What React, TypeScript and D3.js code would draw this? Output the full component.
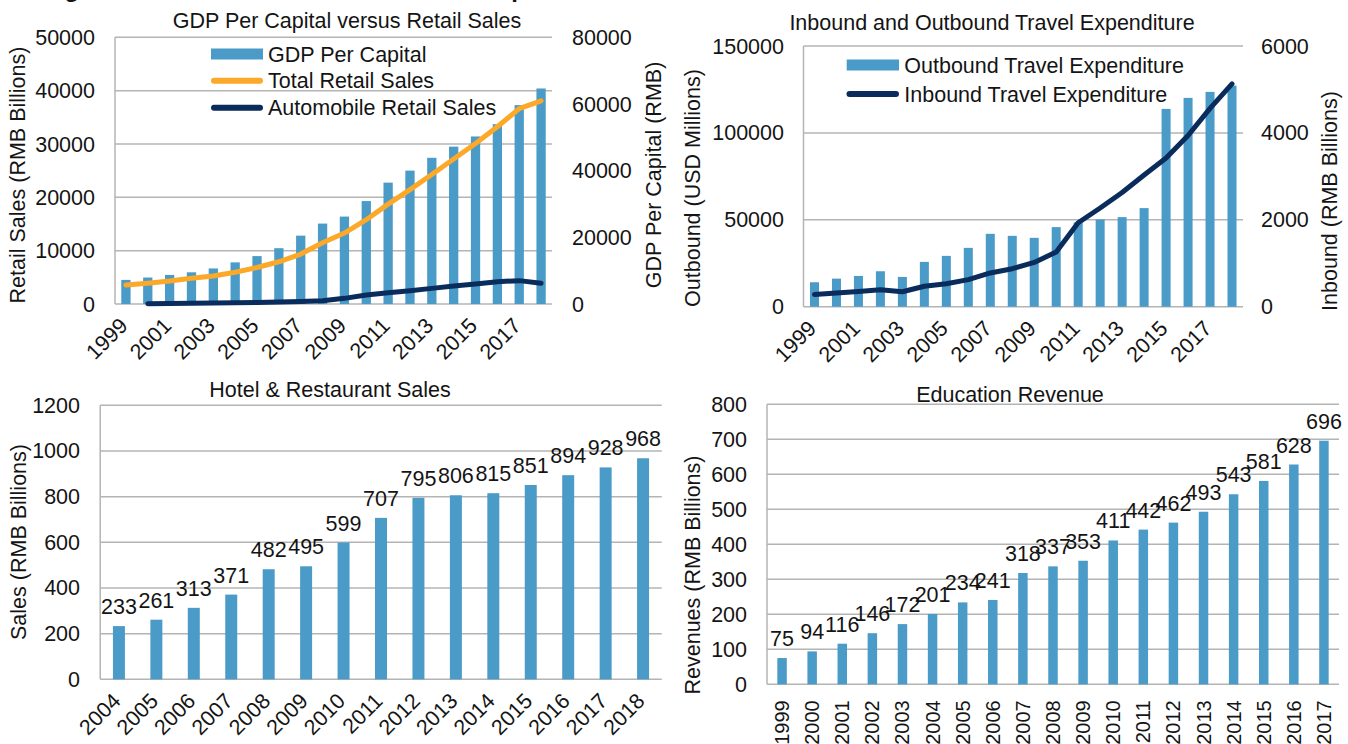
import React from 'react';
import * as d3 from 'd3';

// ---------- DATA ----------
const gdpYears = ['1999','2000','2001','2002','2003','2004','2005','2006','2007','2008','2009','2010','2011','2012','2013','2014','2015','2016','2017','2018'];
const gdpPerCapita = [7229, 7942, 8717, 9506, 10666, 12487, 14368, 16738, 20505, 24121, 26222, 30876, 36403, 40007, 43852, 47203, 50251, 53935, 59660, 64644];
const totalRetailSales = [3565, 3911, 4306, 4814, 5252, 5950, 6835, 7915, 9357, 11483, 13305, 15801, 18721, 21443, 24284, 27190, 30093, 33232, 36626, 38099];
const autoYears = ['2000','2001','2002','2003','2004','2005','2006','2007','2008','2009','2010','2011','2012','2013','2014','2015','2016','2017','2018'];
const autoRetailSales = [60, 80, 120, 180, 220, 280, 360, 480, 620, 1060, 1690, 2120, 2500, 2930, 3360, 3750, 4190, 4380, 3880];
const retailTicks = [0, 10000, 20000, 30000, 40000, 50000];
const gdpTicks = [0, 20000, 40000, 60000, 80000];

const travelYears = ['1999','2000','2001','2002','2003','2004','2005','2006','2007','2008','2009','2010','2011','2012','2013','2014','2015','2016','2017','2018'];
const outboundTravel = [14070, 16150, 17700, 20400, 17130, 25780, 29240, 33850, 41930, 40770, 39620, 45790, 48500, 50200, 51540, 56730, 113800, 120150, 123600, 127200];
const inboundTravel = [283, 318, 352, 388, 344, 471, 529, 623, 777, 875, 1018, 1258, 1931, 2271, 2628, 3031, 3420, 3939, 4566, 5128];
const outboundTicks = [0, 50000, 100000, 150000];
const inboundTicks = [0, 2000, 4000, 6000];

const hotelYears = ['2004','2005','2006','2007','2008','2009','2010','2011','2012','2013','2014','2015','2016','2017','2018'];
const hotelSales = [233, 261, 313, 371, 482, 495, 599, 707, 795, 806, 815, 851, 894, 928, 968];
const hotelTicks = [0, 200, 400, 600, 800, 1000, 1200];

const eduYears = ['1999','2000','2001','2002','2003','2004','2005','2006','2007','2008','2009','2010','2011','2012','2013','2014','2015','2016','2017'];
const eduRevenue = [75, 94, 116, 146, 172, 201, 234, 241, 318, 337, 353, 411, 442, 462, 493, 543, 581, 628, 696];
const eduTicks = [0, 100, 200, 300, 400, 500, 600, 700, 800];

// ---------- STYLE ----------
const FONT = "'Liberation Sans', Arial, Helvetica, sans-serif";
const FS = 21.5;
const BAR = '#4a9bc7';
const ORANGE = '#fca828';
const NAVY = '#0a2c5c';
const GRID = '#b4b4b4';
const TXT = '#141414';

function band(domain: string[], r0: number, r1: number, inner: number) {
  return d3.scaleBand<string>().domain(domain).range([r0, r1]).paddingInner(inner).paddingOuter(inner / 2);
}

function Grid({ ticks, y, x0, x1 }: any) {
  return (
    <g>
      {ticks.map((t: number) => (
        <line key={t} x1={x0} x2={x1} y1={y(t)} y2={y(t)} stroke={GRID} strokeWidth={1.5} />
      ))}
      <line x1={x0} x2={x0} y1={y(ticks[0])} y2={y(ticks[ticks.length - 1])} stroke={GRID} strokeWidth={1.5} />
    </g>
  );
}

function LeftTicks({ ticks, y, x }: any) {
  return (
    <g>
      {ticks.map((t: number) => (
        <text key={t} x={x} y={y(t)} dy="0.35em" textAnchor="end" fontSize={FS} fill={TXT}>{t}</text>
      ))}
    </g>
  );
}

function RightTicks({ ticks, y, x }: any) {
  return (
    <g>
      {ticks.map((t: number) => (
        <text key={t} x={x} y={y(t)} dy="0.35em" textAnchor="start" fontSize={FS} fill={TXT}>{t}</text>
      ))}
    </g>
  );
}

function VLabel({ x, y, text }: any) {
  return (
    <text transform={`translate(${x},${y}) rotate(-90)`} textAnchor="middle" fontSize={FS} fill={TXT}>{text}</text>
  );
}

function DiagLabels({ cats, x, base }: any) {
  const bw = x.bandwidth();
  return (
    <g>
      {cats.map((c: string) => (
        <text key={c} transform={`translate(${(x(c) as number) + bw / 2 + 3},${base + 23}) rotate(-45)`} textAnchor="end" fontSize={FS} fill={TXT}>{c}</text>
      ))}
    </g>
  );
}

function ChartRetail() {
  const x0 = 115, x1 = 552, yb = 304, yt = 37.3;
  const x = band(gdpYears, x0, x1, 0.575);
  const bw = x.bandwidth();
  const yL = d3.scaleLinear().domain([0, 50000]).range([yb, yt]);
  const yR = d3.scaleLinear().domain([0, 80000]).range([yb, yt]);
  const cx = (c: string) => (x(c) as number) + bw / 2;
  const retailLine = d3.line<number>().x((_, i) => cx(gdpYears[i])).y((d) => yL(d))(totalRetailSales) as string;
  const autoLine = d3.line<number>().x((_, i) => cx(autoYears[i])).y((d) => yL(d))(autoRetailSales) as string;
  return (
    <g>
      <text x={347} y={28} textAnchor="middle" fontSize={FS} fill={TXT}>GDP Per Capital versus Retail Sales</text>
      <Grid ticks={retailTicks} y={yL} x0={x0} x1={x1} />
      {gdpYears.map((c, i) => (
        <rect key={c} x={x(c)} y={yR(gdpPerCapita[i])} width={bw} height={yb - yR(gdpPerCapita[i])} fill={BAR} />
      ))}
      <path d={retailLine} fill="none" stroke={ORANGE} strokeWidth={5} strokeLinejoin="round" strokeLinecap="round" />
      <path d={autoLine} fill="none" stroke={NAVY} strokeWidth={5} strokeLinejoin="round" strokeLinecap="round" />
      <LeftTicks ticks={retailTicks} y={yL} x={95} />
      <RightTicks ticks={gdpTicks} y={yR} x={572} />
      <VLabel x={25} y={175} text="Retail Sales (RMB Billions)" />
      <VLabel x={661} y={175} text="GDP Per Capital (RMB)" />
      <DiagLabels cats={gdpYears.filter((_, i) => i % 2 === 0)} x={x} base={yb} />
      {/* legend */}
      <rect x={211} y={48.5} width={52} height={11} fill={BAR} />
      <text x={268} y={54} dy="0.35em" fontSize={FS} fill={TXT}>GDP Per Capital</text>
      <line x1={214} x2={260} y1={80.7} y2={80.7} stroke={ORANGE} strokeWidth={6} strokeLinecap="round" />
      <text x={268} y={80.7} dy="0.35em" fontSize={FS} fill={TXT}>Total Retail Sales</text>
      <line x1={214} x2={260} y1={107.7} y2={107.7} stroke={NAVY} strokeWidth={6} strokeLinecap="round" />
      <text x={268} y={107.7} dy="0.35em" fontSize={FS} fill={TXT}>Automobile Retail Sales</text>
    </g>
  );
}

function ChartTravel() {
  const x0 = 803.5, x1 = 1243, yb = 306.7, yt = 46;
  const x = band(travelYears, x0, x1, 0.59);
  const bw = x.bandwidth();
  const yL = d3.scaleLinear().domain([0, 150000]).range([yb, yt]);
  const yR = d3.scaleLinear().domain([0, 6000]).range([yb, yt]);
  const cx = (c: string) => (x(c) as number) + bw / 2;
  const inLine = d3.line<number>().x((_, i) => cx(travelYears[i])).y((d) => yR(d))(inboundTravel) as string;
  return (
    <g>
      <text x={992} y={30} textAnchor="middle" fontSize={FS} fill={TXT}>Inbound and Outbound Travel Expenditure</text>
      <Grid ticks={outboundTicks} y={yL} x0={x0} x1={x1} />
      {travelYears.map((c, i) => (
        <rect key={c} x={x(c)} y={yL(outboundTravel[i])} width={bw} height={yb - yL(outboundTravel[i])} fill={BAR} />
      ))}
      <path d={inLine} fill="none" stroke={NAVY} strokeWidth={5} strokeLinejoin="round" strokeLinecap="round" />
      <LeftTicks ticks={outboundTicks} y={yL} x={784} />
      <RightTicks ticks={inboundTicks} y={yR} x={1261} />
      <VLabel x={700} y={188} text="Outbound (USD Millions)" />
      <VLabel x={1337} y={201} text="Inbound (RMB Billions)" />
      <DiagLabels cats={travelYears.filter((_, i) => i % 2 === 0)} x={x} base={yb} />
      <rect x={846.7} y={59.5} width={52.3} height={11} fill={BAR} />
      <text x={904.3} y={65} dy="0.35em" fontSize={FS} fill={TXT}>Outbound Travel Expenditure</text>
      <line x1={849.5} x2={896} y1={94} y2={94} stroke={NAVY} strokeWidth={6} strokeLinecap="round" />
      <text x={904.3} y={94} dy="0.35em" fontSize={FS} fill={TXT}>Inbound Travel Expenditure</text>
    </g>
  );
}

function ChartHotel() {
  const x0 = 100.2, x1 = 661.8, yb = 679.3, yt = 405.3;
  const x = band(hotelYears, x0, x1, 0.68);
  const bw = x.bandwidth();
  const y = d3.scaleLinear().domain([0, 1200]).range([yb, yt]);
  return (
    <g>
      <text x={330} y={397} textAnchor="middle" fontSize={FS} fill={TXT}>Hotel &amp; Restaurant Sales</text>
      <Grid ticks={hotelTicks} y={y} x0={x0} x1={x1} />
      {hotelYears.map((c, i) => (
        <g key={c}>
          <rect x={x(c)} y={y(hotelSales[i])} width={bw} height={yb - y(hotelSales[i])} fill={BAR} />
          <text x={(x(c) as number) + bw / 2} y={y(hotelSales[i]) - 12} textAnchor="middle" fontSize={FS} fill={TXT}>{hotelSales[i]}</text>
        </g>
      ))}
      <LeftTicks ticks={hotelTicks} y={y} x={80} />
      <VLabel x={26} y={542} text="Sales (RMB Billions)" />
      <DiagLabels cats={hotelYears} x={x} base={yb} />
    </g>
  );
}

function ChartEdu() {
  const x0 = 767, x1 = 1339, yb = 684.3, yt = 404.3;
  const x = band(eduYears, x0, x1, 0.685);
  const bw = x.bandwidth();
  const y = d3.scaleLinear().domain([0, 800]).range([yb, yt]);
  return (
    <g>
      <text x={1010} y={402} textAnchor="middle" fontSize={FS} fill={TXT}>Education Revenue</text>
      <Grid ticks={eduTicks} y={y} x0={x0} x1={x1} />
      {eduYears.map((c, i) => (
        <g key={c}>
          <rect x={x(c)} y={y(eduRevenue[i])} width={bw} height={yb - y(eduRevenue[i])} fill={BAR} />
          <text x={(x(c) as number) + bw / 2} y={y(eduRevenue[i]) - 12} textAnchor="middle" fontSize={FS} fill={TXT}>{eduRevenue[i]}</text>
          <text transform={`translate(${(x(c) as number) + bw / 2 + 7},${yb + 16}) rotate(-90)`} textAnchor="end" fontSize={20} fill={TXT}>{c}</text>
        </g>
      ))}
      <LeftTicks ticks={eduTicks} y={y} x={747} />
      <VLabel x={700} y={575} text="Revenues (RMB Billions)" />
    </g>
  );
}

export default function App() {
  return (
    <svg width={1348} height={744} style={{ position: 'absolute', left: 0, top: 0, background: '#fff' }} fontFamily={FONT}>
      <rect x={0} y={0} width={1348} height={744} fill="#fff" />
      <text x={570} y={-3} textAnchor="end" fontSize={24} fontWeight="bold" fill={TXT}>Figure 8: China Retail Sales and Consumption</text>
      <ChartRetail />
      <ChartTravel />
      <ChartHotel />
      <ChartEdu />
    </svg>
  );
}
